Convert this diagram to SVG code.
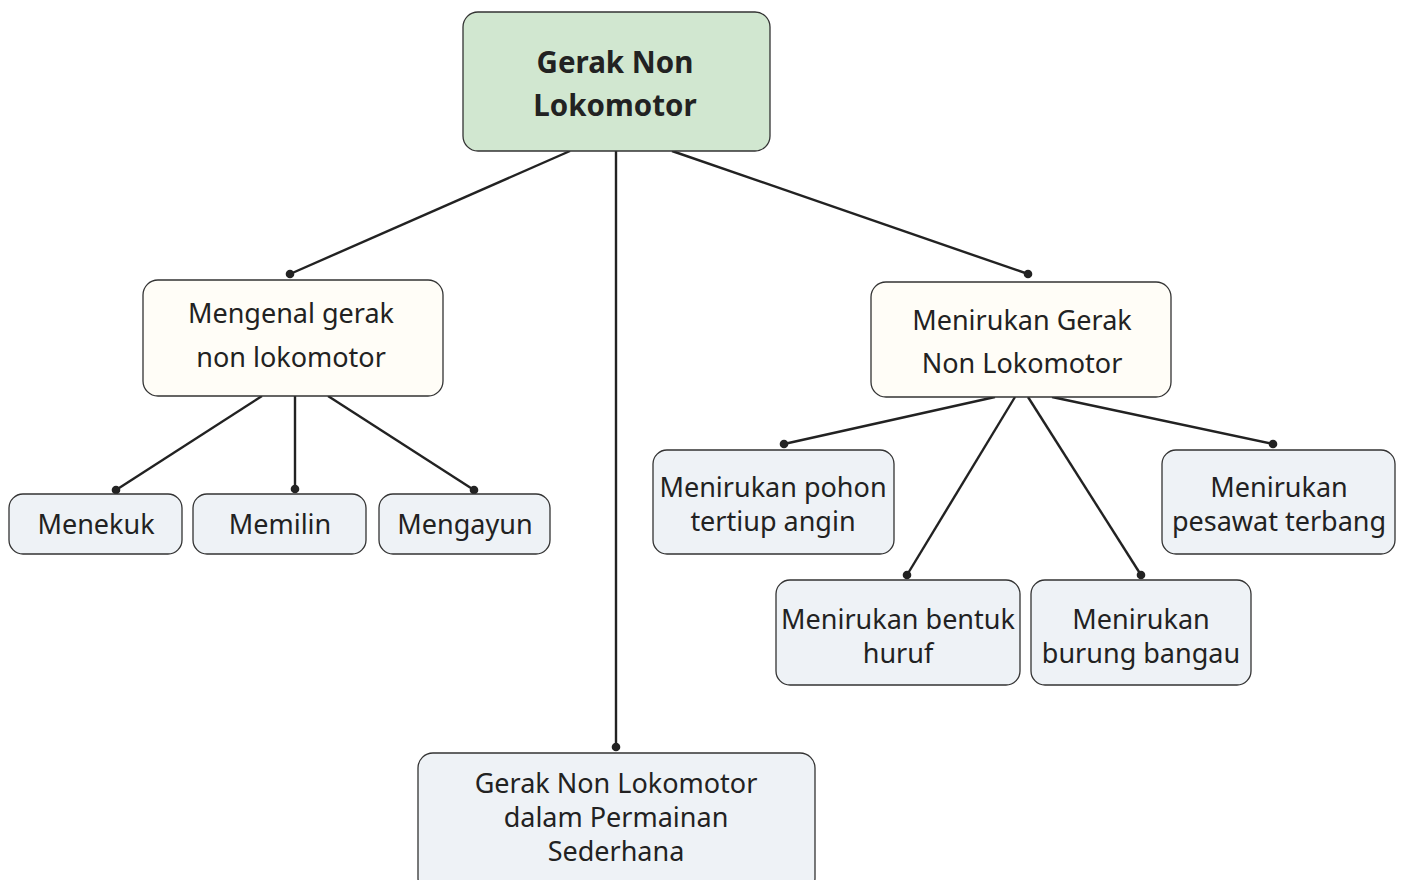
<svg xmlns="http://www.w3.org/2000/svg" width="1405" height="880" viewBox="0 0 1405 880">
<style>
.box{stroke:#333;stroke-width:1.3}
.root{fill:#d1e7d0}
.mid{fill:#fffdf7}
.leaf{fill:#eef2f6}
.t{font-family:"Noto Sans","Open Sans",sans-serif;font-size:27px;fill:#222;text-anchor:middle;dominant-baseline:central}
.tb{font-family:"Noto Sans","Open Sans",sans-serif;font-size:29.5px;font-weight:bold;fill:#222;text-anchor:middle;dominant-baseline:central}
.c{stroke:#222;stroke-width:2.4;fill:none}
.d{fill:#222}
</style>
<g id="connectors">
<line class="c" x1="570" y1="151" x2="290" y2="274"/><circle class="d" cx="290" cy="274" r="4.3"/>
<line class="c" x1="616" y1="151" x2="616" y2="747"/><circle class="d" cx="616" cy="747" r="4.3"/>
<line class="c" x1="672" y1="151" x2="1028" y2="274"/><circle class="d" cx="1028" cy="274" r="4.3"/>
<line class="c" x1="262" y1="396" x2="116" y2="490"/><circle class="d" cx="116" cy="490" r="4.3"/>
<line class="c" x1="295" y1="396" x2="295" y2="489"/><circle class="d" cx="295" cy="489" r="4.3"/>
<line class="c" x1="328" y1="396" x2="474" y2="490"/><circle class="d" cx="474" cy="490" r="4.3"/>
<line class="c" x1="995" y1="397" x2="784" y2="444"/><circle class="d" cx="784" cy="444" r="4.3"/>
<line class="c" x1="1015" y1="397" x2="907" y2="575"/><circle class="d" cx="907" cy="575" r="4.3"/>
<line class="c" x1="1028" y1="397" x2="1141" y2="575"/><circle class="d" cx="1141" cy="575" r="4.3"/>
<line class="c" x1="1052" y1="397" x2="1273" y2="444"/><circle class="d" cx="1273" cy="444" r="4.3"/>
</g>
<g id="root">
<rect class="box root" x="463" y="12" width="307" height="139" rx="15"/>
<text class="tb" x="615" y="61">Gerak Non</text>
<text class="tb" x="615" y="104">Lokomotor</text>
</g>
<g id="mengenal">
<rect class="box mid" x="143" y="280" width="300" height="116" rx="15"/>
<text class="t" x="291" y="312">Mengenal gerak</text>
<text class="t" x="291" y="356">non lokomotor</text>
</g>
<g id="menekuk">
<rect class="box leaf" x="9" y="494" width="173" height="60" rx="14"/>
<text class="t" x="96" y="523">Menekuk</text>
</g>
<g id="memilin">
<rect class="box leaf" x="193" y="494" width="173" height="60" rx="14"/>
<text class="t" x="280" y="523">Memilin</text>
</g>
<g id="mengayun">
<rect class="box leaf" x="379" y="494" width="171" height="60" rx="14"/>
<text class="t" x="465" y="523">Mengayun</text>
</g>
<g id="menirukan">
<rect class="box mid" x="871" y="282" width="300" height="115" rx="15"/>
<text class="t" x="1022" y="319">Menirukan Gerak</text>
<text class="t" x="1022" y="362">Non Lokomotor</text>
</g>
<g id="pohon">
<rect class="box leaf" x="653" y="450" width="241" height="104" rx="14"/>
<text class="t" x="773" y="486">Menirukan pohon</text>
<text class="t" x="773" y="520">tertiup angin</text>
</g>
<g id="pesawat">
<rect class="box leaf" x="1162" y="450" width="233" height="104" rx="14"/>
<text class="t" x="1279" y="486">Menirukan</text>
<text class="t" x="1279" y="520">pesawat terbang</text>
</g>
<g id="bentuk">
<rect class="box leaf" x="776" y="580" width="244" height="105" rx="14"/>
<text class="t" x="898" y="618">Menirukan bentuk</text>
<text class="t" x="898" y="652">huruf</text>
</g>
<g id="bangau">
<rect class="box leaf" x="1031" y="580" width="220" height="105" rx="14"/>
<text class="t" x="1141" y="618">Menirukan</text>
<text class="t" x="1141" y="652">burung bangau</text>
</g>
<g id="permainan">
<rect class="box leaf" x="418" y="753" width="397" height="140" rx="15"/>
<text class="t" x="616" y="782">Gerak Non Lokomotor</text>
<text class="t" x="616" y="816">dalam Permainan</text>
<text class="t" x="616" y="850">Sederhana</text>
</g>
</svg>
